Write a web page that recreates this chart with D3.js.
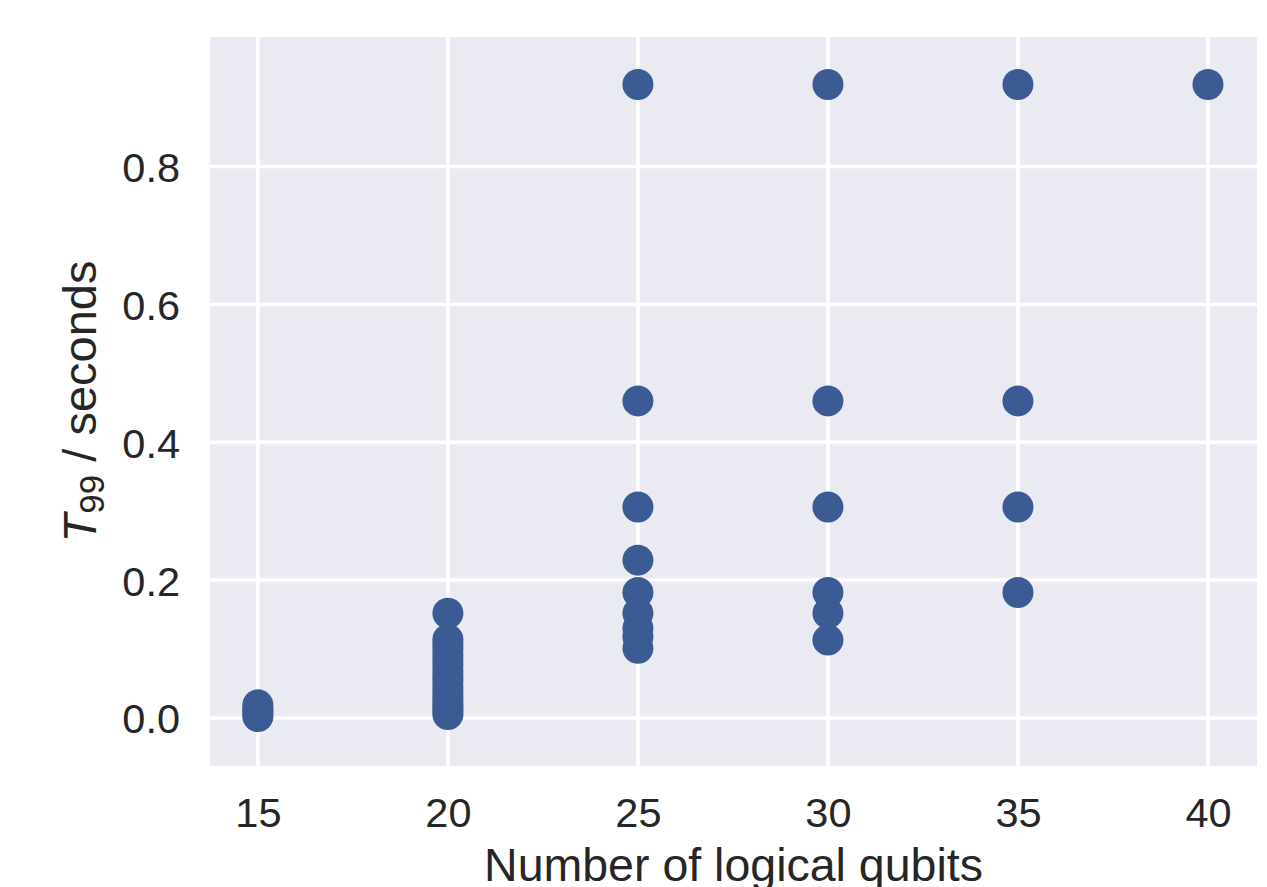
<!DOCTYPE html>
<html>
<head>
<meta charset="utf-8">
<script src="https://cdn.jsdelivr.net/npm/d3@7"></script>
<style>
  body { margin: 0; background: #fff; }
  svg text { font-family: "Liberation Sans", Arial, sans-serif; fill: #262626; }
</style>
</head>
<body>
<svg width="1267" height="887"></svg>
<script>
// logical qubits and T99 (seconds)
const qubits15 = [0.002, 0.006, 0.010, 0.014, 0.019];
const qubits20 = [0.005, 0.010, 0.015, 0.020, 0.026, 0.032, 0.039, 0.046, 0.054,
  0.061, 0.069, 0.077, 0.085, 0.092, 0.100, 0.107, 0.114, 0.152];
const qubits25 = [0.101, 0.118, 0.130, 0.152, 0.182, 0.229, 0.306, 0.460, 0.919];
const qubits30 = [0.113, 0.152, 0.182, 0.306, 0.460, 0.919];
const qubits35 = [0.182, 0.306, 0.460, 0.919];
const qubits40 = [0.919];

const xTicks = [15, 20, 25, 30, 35, 40];
const yTicks = [0.0, 0.2, 0.4, 0.6, 0.8];

const points = [
  [15, qubits15], [20, qubits20], [25, qubits25],
  [30, qubits30], [35, qubits35], [40, qubits40]
].flatMap(([q, vals]) => vals.map((v) => ({ q: q, t: v })));

const svg = d3.select("svg");
const plotL = 210, plotR = 1257, plotT = 37, plotB = 766;

const x = d3.scaleLinear().domain([13.74, 41.29]).range([plotL, plotR]);
const y = d3.scaleLinear().domain([-0.0697, 0.988]).range([plotB, plotT]);

// background
svg.append("rect")
  .attr("x", plotL)
  .attr("y", plotT)
  .attr("width", plotR - plotL)
  .attr("height", plotB - plotT)
  .attr("fill", "#eaeaf2");

// grid
const grid = svg.append("g").attr("stroke", "#fff").attr("stroke-width", 3.5);
grid.selectAll("line.gx")
  .data(xTicks)
  .enter()
  .append("line")
  .attr("x1", (d) => x(d))
  .attr("x2", (d) => x(d))
  .attr("y1", plotT)
  .attr("y2", plotB);
grid.selectAll("line.gy")
  .data(yTicks)
  .enter()
  .append("line")
  .attr("x1", plotL)
  .attr("x2", plotR)
  .attr("y1", (d) => y(d))
  .attr("y2", (d) => y(d));

// axes (labels only, seaborn darkgrid has no spines)
const xAxis = svg.append("g")
  .attr("transform", `translate(0,${plotB})`)
  .call(d3.axisBottom(x).tickValues(xTicks).tickSize(0).tickPadding(0).tickFormat(d3.format("d")));
xAxis.select(".domain").remove();
xAxis.selectAll("text")
  .attr("y", 61)
  .attr("dy", 0)
  .style("font-size", "41.5px");

const yAxis = svg.append("g")
  .attr("transform", `translate(${plotL},0)`)
  .call(d3.axisLeft(y).tickValues(yTicks).tickSize(0).tickPadding(30).tickFormat(d3.format(".1f")));
yAxis.select(".domain").remove();
yAxis.selectAll("text")
  .attr("dy", "0.36em")
  .style("font-size", "41.5px");

// points
svg.append("g")
  .selectAll("circle")
  .data(points)
  .enter()
  .append("circle")
  .attr("cx", (d) => x(d.q))
  .attr("cy", (d) => y(d.t))
  .attr("r", 15.5)
  .attr("fill", "#3b5b94");

// axis titles
svg.append("text")
  .attr("x", (plotL + plotR) / 2)
  .attr("y", 881)
  .attr("text-anchor", "middle")
  .style("font-size", "46.5px")
  .text("Number of logical qubits");

const ylab = svg.append("text")
  .attr("transform", `translate(96,${(plotT + plotB) / 2}) rotate(-90)`)
  .attr("text-anchor", "middle")
  .style("font-size", "47px");
ylab.append("tspan").style("font-style", "italic").text("T");
ylab.append("tspan").attr("dy", 8).style("font-size", "35px").text("99");
ylab.append("tspan").attr("dy", -8).text(" / seconds");
</script>
</body>
</html>
